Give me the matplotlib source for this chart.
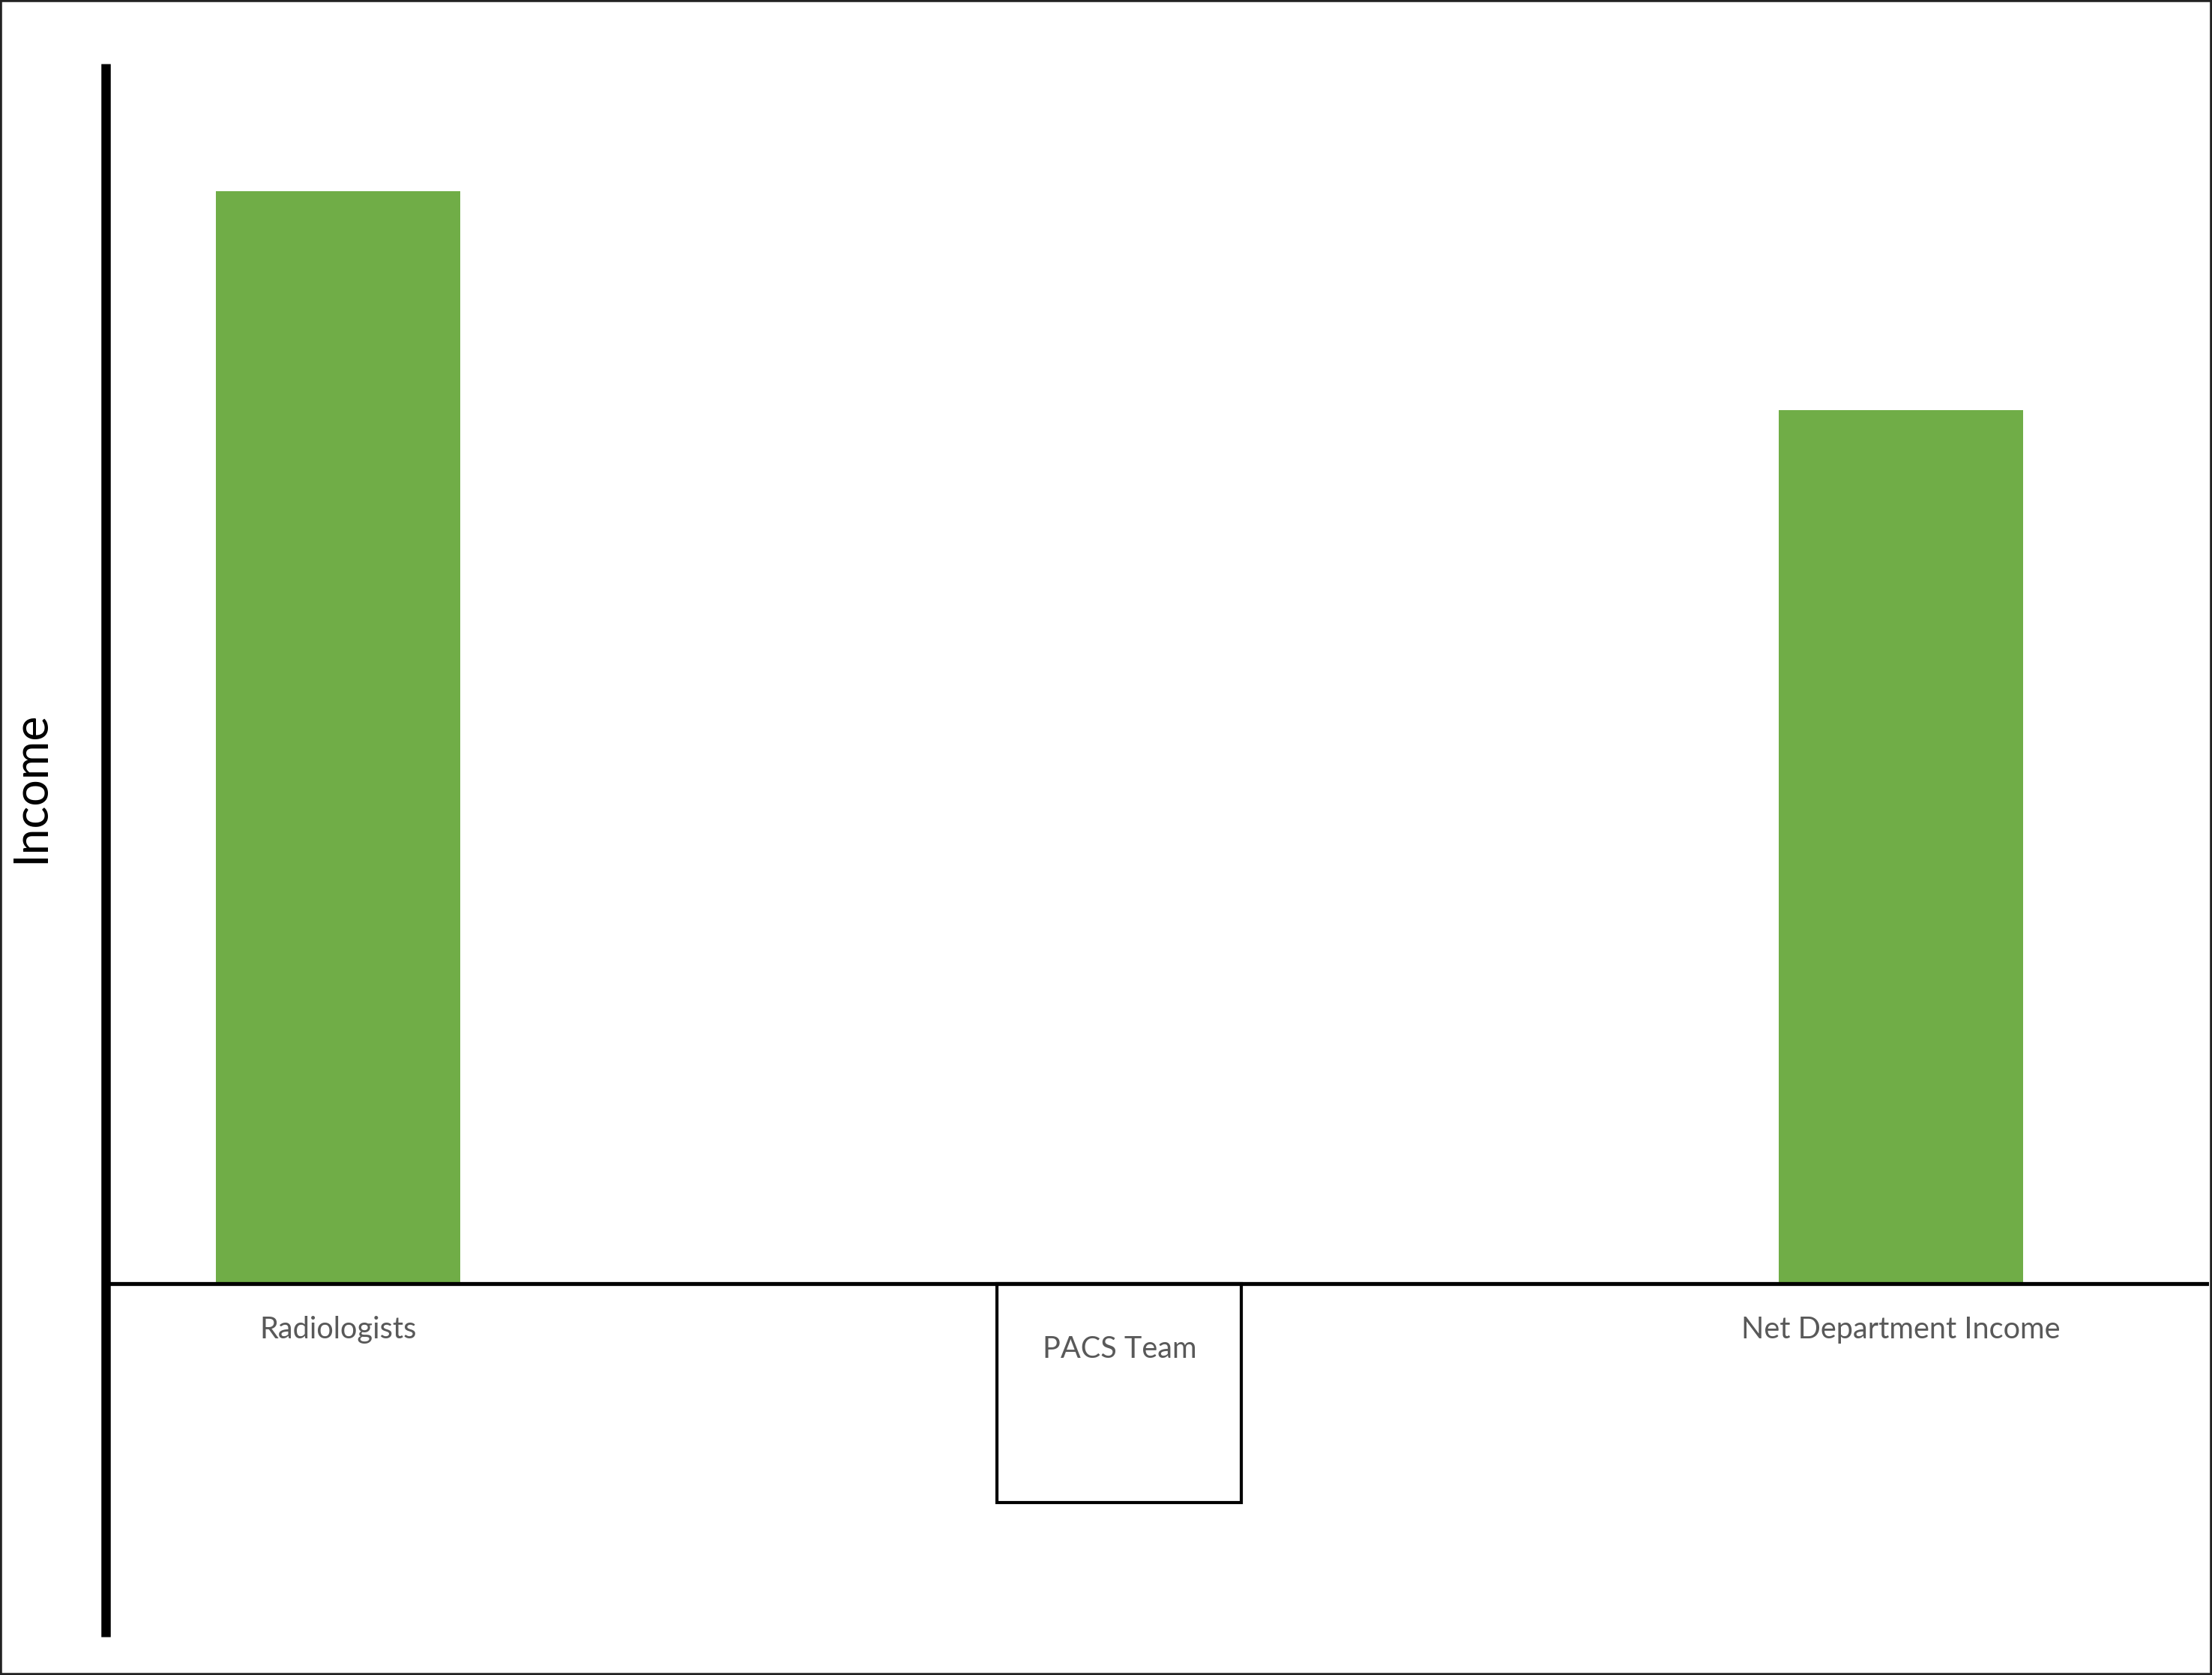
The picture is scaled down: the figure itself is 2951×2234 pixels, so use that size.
import matplotlib.pyplot as plt
from matplotlib.patches import Rectangle

# valeurs (unites arbitraires)
categories = ["Radiologists", "PACS Team", "Net Department Income"]
values = [100, -20, 80]
bar_colors = ["#70AD47", "white", "#70AD47"]
edge_colors = ["none", "black", "none"]

plt.rcParams['font.family'] = ['Lato', 'DejaVu Sans']

fig = plt.figure(figsize=(14.755, 11.17), dpi=200)
ax = fig.add_axes([0.0478, 0.0228, 0.9508, 0.9392])

x = list(range(len(categories)))
ax.bar(x, values, width=0.3127, color=bar_colors, edgecolor=edge_colors,
       linewidth=1.5, zorder=2)

ax.set_xlim(-0.297, 2.394)
ax.set_ylim(-32.3, 111.7)

# ligne du zero
ax.axhline(0, color='black', linewidth=1.9, zorder=3)

for s in ['top', 'right', 'bottom']:
    ax.spines[s].set_visible(False)
ax.spines['left'].set_linewidth(4.5)
ax.spines['left'].set_color('black')
ax.spines['left'].set_capstyle('butt')
ax.set_xticks([])
ax.set_yticks([])
ax.patch.set_alpha(0)

# etiquettes des categories
offsets = [-22, -31.5, -22]
for xi, lab, off in zip(x, categories, offsets):
    ax.annotate(lab, xy=(xi, 0), xytext=(0, off), textcoords='offset points',
                ha='center', va='center', fontsize=14.3, color='#595959')

fig.text(0.0139, 0.530, "Income", rotation=90, ha='center', va='center',
         fontsize=22.5, color='black')

# cadre autour de la figure
fig.patches.append(Rectangle((0, 0), 1, 1, transform=fig.transFigure,
                             fill=False, edgecolor='#222222', linewidth=2))

fig.savefig("out.png", dpi=200, facecolor='white')
